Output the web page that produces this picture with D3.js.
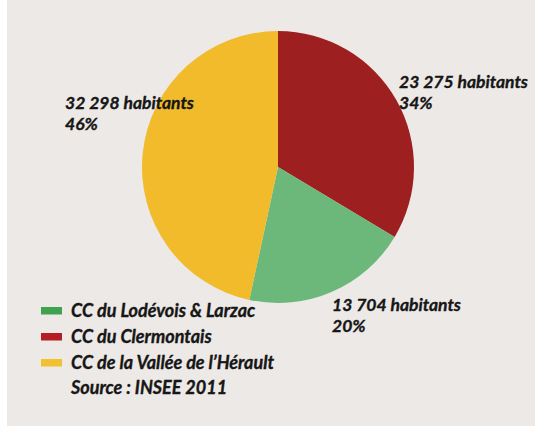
<!DOCTYPE html>
<html>
<head>
<meta charset="utf-8">
<script src="https://cdn.jsdelivr.net/npm/d3@7"></script>
<style>
  html, body { margin: 0; padding: 0; background: #ffffff; }
  svg { display: block; }
  text { font-family: Lato, "Open Sans", sans-serif; font-style: italic; font-weight: bold; fill: #161616; stroke: #161616; stroke-width: 0.35px; }
</style>
</head>
<body>
<script>
const categories = ["CC du Clermontais", "CC du Lodévois & Larzac", "CC de la Vallée de l\u2019Hérault"];
const populations = [23275, 13704, 32298];
const percentLabels = ["34%", "20%", "46%"];
const populationLabels = ["23 275 habitants", "13 704 habitants", "32 298 habitants"];
const sliceColors = ["#9e1f20", "#6cb87b", "#f1bb2c"];
const legendOrder = ["CC du Lodévois & Larzac", "CC du Clermontais", "CC de la Vallée de l\u2019Hérault"];
const legendColors = ["#3ea24f", "#b21e24", "#f2c12f"];
const sourceText = "Source : INSEE 2011";

const W = 535, H = 426;
const svg = d3.select("body").append("svg").attr("width", W).attr("height", H);

svg.append("rect").attr("x", 0).attr("y", 0).attr("width", W).attr("height", H).attr("fill", "#ffffff");
svg.append("rect").attr("x", 7).attr("y", 0).attr("width", W - 7).attr("height", H).attr("fill", "#ece9e6");

const cx = 278, cy = 167, r = 136;
const pie = d3.pie().sort(null).value(d => d)(populations);
const arc = d3.arc().innerRadius(0).outerRadius(r);
const color = d3.scaleOrdinal().domain(categories).range(sliceColors);

const g = svg.append("g").attr("transform", `translate(${cx},${cy})`);
g.selectAll("path").data(pie).join("path")
  .attr("d", arc)
  .attr("fill", (d, i) => color(categories[i]));

// labels: [x, baseline of count, baseline of percent]
const labelPos = [[399, 88, 109], [332, 311, 332], [65, 109, 130]];
const fs = 17.5;
labelPos.forEach((p, i) => {
  svg.append("text").attr("x", p[0]).attr("y", p[1]).attr("font-size", fs).text(populationLabels[i]);
  svg.append("text").attr("x", p[0]).attr("y", p[2]).attr("font-size", fs).text(percentLabels[i]);
});

// legend
const ly = d3.scalePoint().domain(legendOrder).range([317, 369]);
const legendColor = d3.scaleOrdinal().domain(legendOrder).range(legendColors);
const lg = svg.append("g");
legendOrder.forEach(name => {
  lg.append("rect").attr("x", 41).attr("y", ly(name) - 10).attr("width", 21).attr("height", 7.5)
    .attr("fill", legendColor(name));
  lg.append("text").attr("x", 71).attr("y", ly(name)).attr("font-size", 18).text(name);
});
lg.append("text").attr("x", 71).attr("y", 394).attr("font-size", 18).text(sourceText);
</script>
</body>
</html>
